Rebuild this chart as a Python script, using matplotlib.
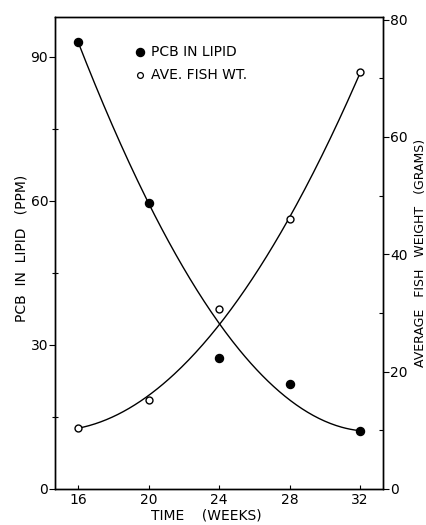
import numpy as np
import matplotlib
matplotlib.use("Agg")
import matplotlib.pyplot as plt
from matplotlib.ticker import MultipleLocator

# Data
weeks = [16, 20, 24, 28, 32]
pcb_lipid = [93.1, 59.5, 27.2, 21.8, 12.1]          # ppm (filled circles)
fish_wt = [10.4, 15.1, 30.6, 46.0, 71.0]             # grams (open circles)
# smoothed curve values read at each week
pcb_curve = [93.1, 59.5, 34.5, 18.5, 12.1]
fish_curve = [10.4, 15.6, 28.4, 46.0, 71.0]

left_ticks = [0, 30, 60, 90]
right_ticks = [0, 20, 40, 60, 80]

plt.rcParams['font.family'] = ['DejaVu Sans']

fig = plt.figure(figsize=(4.27, 5.25), dpi=100)
ax = fig.add_axes([0.129, 0.069, 0.768, 0.899])
ax2 = ax.twinx()

xs = np.linspace(16, 32, 200)
p1 = np.polyfit(weeks, pcb_curve, 3)
p2 = np.polyfit(weeks, fish_curve, 3)

ax.plot(xs, np.polyval(p1, xs), color='black', lw=1.0)
ax.plot(weeks, pcb_lipid, 'o', color='black', ms=5.8)
ax2.plot(xs, np.polyval(p2, xs), color='black', lw=1.0)
ax2.plot(weeks, fish_wt, 'o', mfc='white', mec='black', ms=5, mew=1.0)

ax.set_xlim(14.7, 33.3)
ax.set_ylim(0, 98.3)
ax2.set_ylim(0, 80.5)

ax.set_xticks(weeks)
ax.set_yticks(left_ticks)
ax.yaxis.set_minor_locator(MultipleLocator(15))
ax2.set_yticks(right_ticks)
ax2.yaxis.set_minor_locator(MultipleLocator(10))

ax.tick_params(axis='x', direction='in', length=3, width=0.8, labelsize=10, pad=3)
ax.tick_params(axis='y', which='major', direction='out', length=4, width=0.8, labelsize=10, pad=1)
ax.tick_params(axis='y', which='minor', direction='inout', length=4, width=0.8)
ax2.tick_params(axis='y', which='major', direction='out', length=4, width=0.8, labelsize=10, pad=1)
ax2.tick_params(axis='y', which='minor', direction='in', length=3, width=0.8)

for a in (ax, ax2):
    for s in a.spines.values():
        s.set_linewidth(1.0)

ax.set_xlabel('TIME    (WEEKS)', fontsize=10)
ax.xaxis.set_label_coords(0.46, -0.042)
ax.set_ylabel('PCB  IN  LIPID   (PPM)', fontsize=10)
ax.yaxis.set_label_coords(-0.082, 0.51)
ax2.set_ylabel('AVERAGE   FISH   WEIGHT   (GRAMS)', fontsize=9, rotation=90)
ax2.yaxis.set_label_coords(1.095, 0.5)

# legend drawn as a custom key
ax.plot([19.5], [90.9], 'o', color='black', ms=5.8)
ax.text(20.15, 90.9, 'PCB IN LIPID', fontsize=10, va='center', ha='left')
ax.plot([19.5], [86.1], 'o', mfc='white', mec='black', ms=4.2, mew=0.9)
ax.text(20.15, 86.1, 'AVE. FISH WT.', fontsize=10, va='center', ha='left')

fig.savefig('out.png', dpi=100)
